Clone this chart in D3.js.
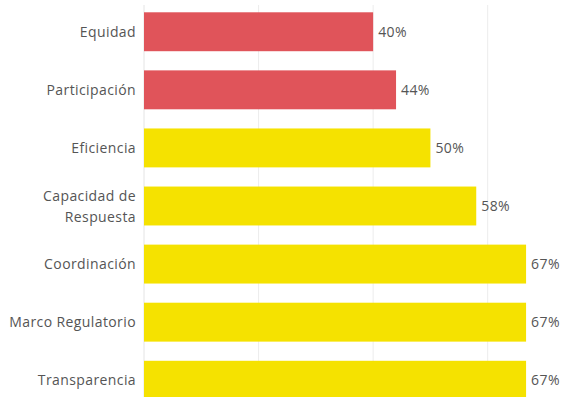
<!DOCTYPE html>
<html>
<head>
<meta charset="utf-8">
<script src="https://d3js.org/d3.v7.min.js"></script>
<style>
  body { margin: 0; background: #fff; }
  text { font-family: "Open Sans", Lato, sans-serif; font-size: 14px; letter-spacing: 0.4px; fill: #555; }
</style>
</head>
<body>
<div id="chart"></div>
<script>
// data
var categories = ["Equidad", "Participación", "Eficiencia", "Capacidad de\nRespuesta", "Coordinación", "Marco Regulatorio", "Transparencia"];
var values = [40, 44, 50, 58, 66.7, 66.7, 66.7];
var groups = ["low", "low", "high", "high", "high", "high", "high"];
var gridTicks = [0, 20, 40, 60];

var width = 564, height = 397;
var left = 144;

var svg = d3.select("#chart").append("svg")
  .attr("width", width)
  .attr("height", height);

var x = d3.scaleLinear().domain([0, 60]).range([left, 487.7]);
var y = d3.scaleBand().domain(categories).range([3, 409]).paddingInner(0.33).paddingOuter(0.16);

var color = d3.scaleOrdinal().domain(["low", "high"]).range(["#e0545a", "#f5e200"]);

// gridlines
svg.append("g").selectAll("line")
  .data(gridTicks).enter()
  .append("line")
  .attr("x1", d => x(d)).attr("x2", d => x(d))
  .attr("y1", 5).attr("y2", height)
  .attr("stroke", d => d === 0 ? "#e4e4e4" : "#ececec")
  .attr("stroke-width", 1);

// bars
svg.append("g").selectAll("rect")
  .data(categories).enter()
  .append("rect")
  .attr("x", x(0))
  .attr("y", d => y(d))
  .attr("height", y.bandwidth())
  .attr("width", (d, i) => x(values[i]) - x(0))
  .attr("fill", (d, i) => color(groups[i]));

// category labels
var labels = svg.append("g").selectAll("text")
  .data(categories).enter()
  .append("text")
  .attr("text-anchor", "end")
  .attr("x", left - 8)
  .attr("y", d => y(d) + y.bandwidth() / 2);

labels.each(function(d) {
  var parts = d.split("\n");
  var t = d3.select(this);
  parts.forEach(function(p, j) {
    t.append("tspan")
      .attr("x", left - 8)
      .attr("dy", j === 0 ? (0.35 - (parts.length - 1) * 0.71) + "em" : "1.5em")
      .text(p);
  });
});

// value labels
svg.append("g").selectAll("text")
  .data(categories).enter()
  .append("text")
  .attr("x", (d, i) => x(values[i]) + 5)
  .attr("y", d => y(d) + y.bandwidth() / 2)
  .attr("dy", "0.35em")
  .text((d, i) => Math.round(values[i]) + "%");
</script>
</body>
</html>
